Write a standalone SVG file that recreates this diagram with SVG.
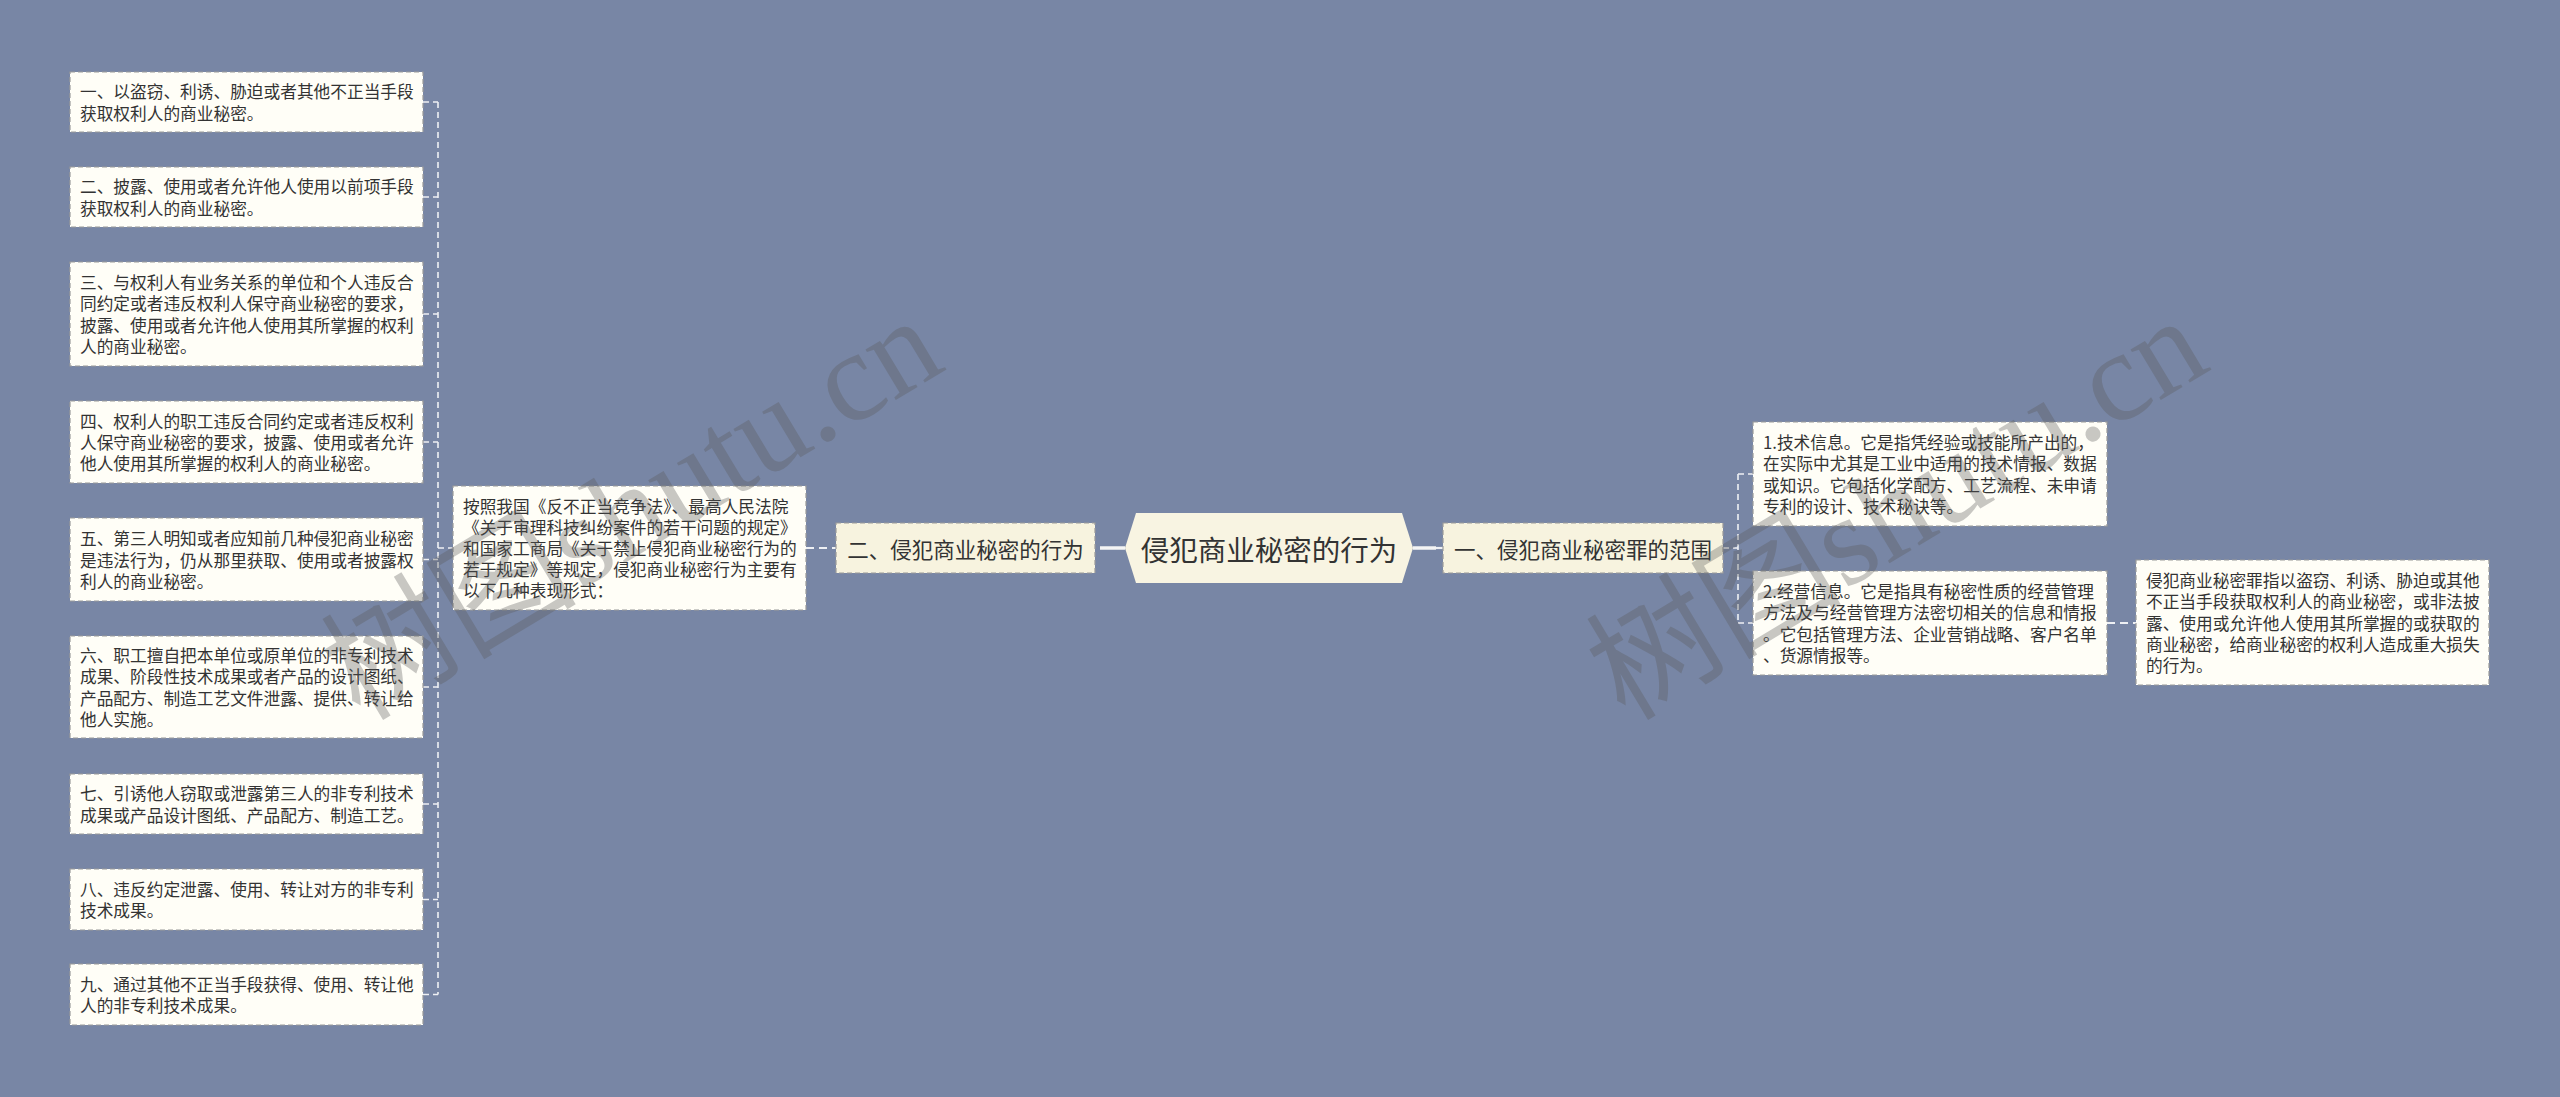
<svg xmlns="http://www.w3.org/2000/svg" width="2560" height="1097" viewBox="0 0 2560 1097">
<style>
  .bg{fill:#7886A5}
  .leaf{fill:#FFFEF7;stroke:#9A9A9A;stroke-width:1.2;stroke-dasharray:5 3}
  .main{fill:#F7F3DF;stroke:#9A9A9A;stroke-width:1.2;stroke-dasharray:5 3}
  .root{fill:#F8F4E2}
  .t{font-family:"Noto Sans CJK SC","Noto Sans",sans-serif;font-size:16.7px;fill:#333;dominant-baseline:central}
  .tm{font-family:"Noto Sans CJK SC","Noto Sans",sans-serif;font-size:21.5px;fill:#333;dominant-baseline:central;text-anchor:middle}
  .tr{font-family:"Noto Sans CJK SC","Noto Sans",sans-serif;font-size:28.5px;fill:#333;dominant-baseline:central;text-anchor:middle}
  .c{fill:none;stroke:#EEF0F4;stroke-width:1.6;stroke-dasharray:6 4}
  .cm{fill:none;stroke:#EEF0F4;stroke-width:2.2;stroke-dasharray:8 5}
  .cs{fill:none;stroke:#F4F4F4;stroke-width:3.5}
  .wm{font-family:"Liberation Serif","Noto Sans CJK SC",serif;font-size:128px;fill:#5A5A5A;opacity:0.33}
</style>
<rect class="bg" x="0" y="0" width="2560" height="1097"/>

<g id="connectors">
  <path class="c" d="M438 102 V994.5"/>
  <path class="c" d="M423 102 H438 M423 197 H438 M423 314 H438 M423 442 H438 M423 559.5 H438 M423 687 H438 M423 804 H438 M423 899.5 H438 M423 994.5 H438 M438 548 H453"/>
  <path class="cm" d="M806 548 H836"/>
  <path class="cs" d="M1100 548 H1125"/>
  <path class="cs" d="M1413 548 H1436"/>
  <path class="cm" d="M1436 548 H1443"/>
  <path class="c" d="M1738 474 V623 M1723 548 H1738 M1738 474 H1753 M1738 623 H1753"/>
  <path class="cm" d="M2107 623 H2136"/>
</g>

<g id="root">
  <polygon class="root" points="1125,548 1136,513 1402,513 1413,548 1402,583 1136,583"/>
  <text class="tr" x="1269" y="548">侵犯商业秘密的行为</text>
</g>

<g id="n-left-main">
  <rect class="main" x="836" y="523" width="259" height="50"/>
  <text class="tm" x="965.5" y="548">二、侵犯商业秘密的行为</text>
</g>

<g id="n-right-main">
  <rect class="main" x="1443" y="523" width="280" height="50"/>
  <text class="tm" x="1583" y="548">一、侵犯商业秘密罪的范围</text>
</g>

<g id="n-intro">
  <rect class="leaf" x="453" y="486" width="353" height="124"/>
  <text class="t" x="463" y="505.6">按照我国《反不正当竞争法》、最高人民法院</text>
  <text class="t" x="463" y="526.8">《关于审理科技纠纷案件的若干问题的规定》</text>
  <text class="t" x="463" y="548">和国家工商局《关于禁止侵犯商业秘密行为的</text>
  <text class="t" x="463" y="569.2">若于规定》等规定，侵犯商业秘密行为主要有</text>
  <text class="t" x="463" y="590.4">以下几种表现形式：</text>
</g>

<g id="l1">
  <rect class="leaf" x="70" y="72" width="353" height="60"/>
  <text class="t" x="80" y="91.4">一、以盗窃、利诱、胁迫或者其他不正当手段</text>
  <text class="t" x="80" y="112.6">获取权利人的商业秘密。</text>
</g>
<g id="l2">
  <rect class="leaf" x="70" y="167" width="353" height="60"/>
  <text class="t" x="80" y="186.4">二、披露、使用或者允许他人使用以前项手段</text>
  <text class="t" x="80" y="207.6">获取权利人的商业秘密。</text>
</g>
<g id="l3">
  <rect class="leaf" x="70" y="262" width="353" height="104"/>
  <text class="t" x="80" y="282.2">三、与权利人有业务关系的单位和个人违反合</text>
  <text class="t" x="80" y="303.4">同约定或者违反权利人保守商业秘密的要求，</text>
  <text class="t" x="80" y="324.6">披露、使用或者允许他人使用其所掌握的权利</text>
  <text class="t" x="80" y="345.8">人的商业秘密。</text>
</g>
<g id="l4">
  <rect class="leaf" x="70" y="401" width="353" height="82"/>
  <text class="t" x="80" y="420.8">四、权利人的职工违反合同约定或者违反权利</text>
  <text class="t" x="80" y="442">人保守商业秘密的要求，披露、使用或者允许</text>
  <text class="t" x="80" y="463.2">他人使用其所掌握的权利人的商业秘密。</text>
</g>
<g id="l5">
  <rect class="leaf" x="70" y="518" width="353" height="83"/>
  <text class="t" x="80" y="538.3">五、第三人明知或者应知前几种侵犯商业秘密</text>
  <text class="t" x="80" y="559.5">是违法行为，仍从那里获取、使用或者披露权</text>
  <text class="t" x="80" y="580.7">利人的商业秘密。</text>
</g>
<g id="l6">
  <rect class="leaf" x="70" y="636" width="353" height="102"/>
  <text class="t" x="80" y="655.2">六、职工擅自把本单位或原单位的非专利技术</text>
  <text class="t" x="80" y="676.4">成果、阶段性技术成果或者产品的设计图纸、</text>
  <text class="t" x="80" y="697.6">产品配方、制造工艺文件泄露、提供、转让给</text>
  <text class="t" x="80" y="718.8">他人实施。</text>
</g>
<g id="l7">
  <rect class="leaf" x="70" y="774" width="353" height="60"/>
  <text class="t" x="80" y="793.4">七、引诱他人窃取或泄露第三人的非专利技术</text>
  <text class="t" x="80" y="814.6">成果或产品设计图纸、产品配方、制造工艺。</text>
</g>
<g id="l8">
  <rect class="leaf" x="70" y="869" width="353" height="61"/>
  <text class="t" x="80" y="888.9">八、违反约定泄露、使用、转让对方的非专利</text>
  <text class="t" x="80" y="910.1">技术成果。</text>
</g>
<g id="l9">
  <rect class="leaf" x="70" y="964" width="353" height="61"/>
  <text class="t" x="80" y="983.9">九、通过其他不正当手段获得、使用、转让他</text>
  <text class="t" x="80" y="1005.1">人的非专利技术成果。</text>
</g>

<g id="r1">
  <rect class="leaf" x="1753" y="422" width="354" height="104"/>
  <text class="t" x="1763" y="442.2">1.技术信息。它是指凭经验或技能所产出的，</text>
  <text class="t" x="1763" y="463.4">在实际中尤其是工业中适用的技术情报、数据</text>
  <text class="t" x="1763" y="484.6">或知识。它包括化学配方、工艺流程、未申请</text>
  <text class="t" x="1763" y="505.8">专利的设计、技术秘诀等。</text>
</g>
<g id="r2">
  <rect class="leaf" x="1753" y="571" width="354" height="104"/>
  <text class="t" x="1763" y="591.2">2.经营信息。它是指具有秘密性质的经营管理</text>
  <text class="t" x="1763" y="612.4">方法及与经营管理方法密切相关的信息和情报</text>
  <text class="t" x="1763" y="633.6">。它包括管理方法、企业营销战略、客户名单</text>
  <text class="t" x="1763" y="654.8">、货源情报等。</text>
</g>
<g id="r3">
  <rect class="leaf" x="2136" y="560" width="353" height="125"/>
  <text class="t" x="2146" y="580.1">侵犯商业秘密罪指以盗窃、利诱、胁迫或其他</text>
  <text class="t" x="2146" y="601.3">不正当手段获取权利人的商业秘密，或非法披</text>
  <text class="t" x="2146" y="622.5">露、使用或允许他人使用其所掌握的或获取的</text>
  <text class="t" x="2146" y="643.7">商业秘密，给商业秘密的权利人造成重大损失</text>
  <text class="t" x="2146" y="664.9">的行为。</text>
</g>

<g id="watermarks">
  <text class="wm" transform="translate(360 722) rotate(-31)">树图shutu.cn</text>
  <text class="wm" transform="translate(1625 722) rotate(-31)">树图shutu.cn</text>
</g>
</svg>
